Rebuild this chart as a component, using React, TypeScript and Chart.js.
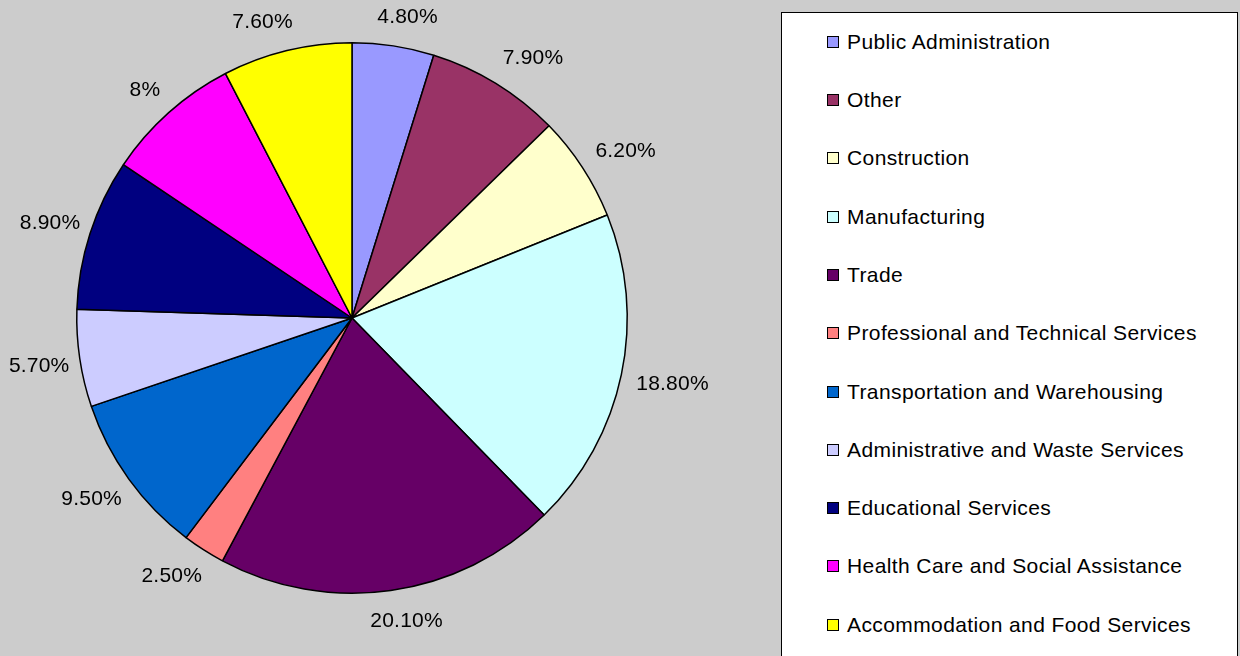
import React, { useEffect, useRef } from "react";
import { Chart, registerables } from "chart.js";

Chart.register(...registerables);

const categories = [
  "Public Administration",
  "Other",
  "Construction",
  "Manufacturing",
  "Trade",
  "Professional and Technical Services",
  "Transportation and Warehousing",
  "Administrative and Waste Services",
  "Educational Services",
  "Health Care and Social Assistance",
  "Accommodation and Food Services",
];

const shares = [4.8, 7.9, 6.2, 18.8, 20.1, 2.5, 9.5, 5.7, 8.9, 8, 7.6];

const shareLabels = [
  "4.80%",
  "7.90%",
  "6.20%",
  "18.80%",
  "20.10%",
  "2.50%",
  "9.50%",
  "5.70%",
  "8.90%",
  "8%",
  "7.60%",
];

const colors = [
  "#9999FF",
  "#993366",
  "#FFFFCC",
  "#CCFFFF",
  "#660066",
  "#FF8080",
  "#0066CC",
  "#CCCCFF",
  "#000080",
  "#FF00FF",
  "#FFFF00",
];

const FONT = '"Liberation Sans", Arial, sans-serif';

const outsideLabels = {
  id: "outsideLabels",
  afterDatasetsDraw(chart: any) {
    const ctx = chart.ctx;
    const meta = chart.getDatasetMeta(0);
    ctx.save();
    ctx.font = `21px ${FONT}`;
    try {
      (ctx as any).letterSpacing = "0.2px";
    } catch (e) {}
    ctx.fillStyle = "#000";
    ctx.textAlign = "center";
    ctx.textBaseline = "middle";
    const gap = 19;
    meta.data.forEach((arc: any, i: number) => {
      const p = arc.getProps(["x", "y", "startAngle", "endAngle", "outerRadius"], true);
      const mid = (p.startAngle + p.endAngle) / 2;
      const dx = Math.cos(mid);
      const dy = Math.sin(mid);
      const text = shareLabels[i];
      const w = ctx.measureText(text).width;
      const ax = Math.abs(dx);
      const fx =
        dx >= 0 ? Math.min(0.9, 0.15 + 1.5 * ax) : -Math.min(0.72, 0.3 + 1.5 * ax);
      const cx = p.x + (p.outerRadius + gap) * dx + (w / 2) * fx;
      const cy = p.y + (p.outerRadius + gap) * dy + 3 * Math.sign(dy) + 8 * dy + 1;
      ctx.fillText(text, cx, cy);
    });
    ctx.restore();
  },
};

export default function App() {
  const ref = useRef<HTMLCanvasElement>(null);

  useEffect(() => {
    if (!ref.current) return;
    const chart = new Chart(ref.current, {
      type: "pie",
      data: {
        labels: categories,
        datasets: [
          {
            data: shares,
            backgroundColor: colors,
            borderColor: "#000000",
            borderWidth: 1.5,
          },
        ],
      },
      options: {
        responsive: false,
        animation: false,
        layout: { padding: { left: 76, right: 612, top: 42, bottom: 62 } },
        plugins: {
          legend: { display: false },
          tooltip: { enabled: false },
        },
      },
      plugins: [outsideLabels],
    });
    return () => chart.destroy();
  }, []);

  return (
    <div
      style={{
        position: "fixed",
        left: 0,
        top: 0,
        width: 1240,
        height: 656,
        background: "#cccccc",
        overflow: "hidden",
        fontFamily: FONT,
      }}
    >
      <canvas ref={ref} width={1240} height={656} style={{ position: "absolute", left: 0, top: 0 }} />
      <div
        style={{
          position: "absolute",
          left: 781,
          top: 12,
          width: 455,
          height: 660,
          background: "#ffffff",
          border: "1px solid #000",
        }}
      >
        {categories.map((c, i) => (
          <div
            key={c}
            style={{
              position: "absolute",
              left: 45,
              top: 28.7 + i * 58.3 - 12,
              height: 24,
              display: "flex",
              alignItems: "center",
              whiteSpace: "nowrap",
              fontSize: 21,
              letterSpacing: "0.4px",
              color: "#000",
            }}
          >
            <span
              style={{
                display: "inline-block",
                width: 10,
                height: 10,
                border: "1.5px solid #000",
                background: colors[i],
                marginRight: 8,
              }}
            />
            <span>{c}</span>
          </div>
        ))}
      </div>
    </div>
  );
}
